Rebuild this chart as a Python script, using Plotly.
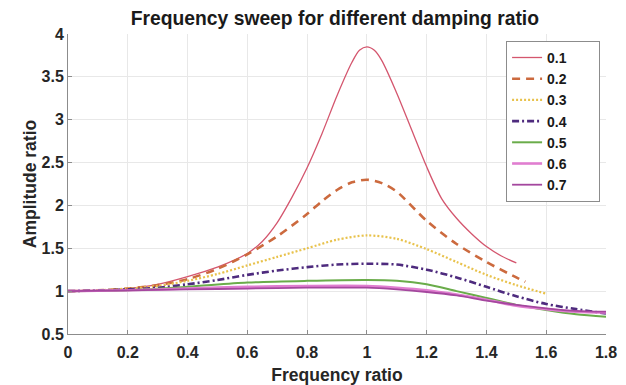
import plotly.graph_objects as go

# ---- data ----
labels = ["0.1", "0.2", "0.3", "0.4", "0.5", "0.6", "0.7"]

x_01 = [0, 0.1, 0.2, 0.3, 0.4, 0.5, 0.6, 0.65, 0.7, 0.75, 0.8, 0.85, 0.9, 0.95, 0.975, 1.0,
        1.025, 1.05, 1.1, 1.15, 1.2, 1.25, 1.3, 1.35, 1.4, 1.45, 1.5]
y_01 = [1.00, 1.01, 1.03, 1.08, 1.17, 1.28, 1.44, 1.58, 1.80, 2.10, 2.44, 2.84, 3.28, 3.67, 3.81, 3.85,
        3.81, 3.69, 3.31, 2.88, 2.45, 2.08, 1.85, 1.67, 1.52, 1.41, 1.33]

x_02 = [0, 0.1, 0.2, 0.3, 0.4, 0.5, 0.6, 0.7, 0.8, 0.85, 0.9, 0.95, 1.0, 1.05, 1.1, 1.2, 1.3, 1.4, 1.5, 1.53]
y_02 = [1.00, 1.01, 1.03, 1.07, 1.14, 1.26, 1.43, 1.64, 1.90, 2.05, 2.18, 2.27, 2.30, 2.26, 2.16, 1.82, 1.55, 1.34, 1.16, 1.11]

x_03 = [0, 0.1, 0.2, 0.3, 0.4, 0.5, 0.6, 0.7, 0.8, 0.9, 1.0, 1.1, 1.2, 1.3, 1.4, 1.5, 1.6]
y_03 = [1.00, 1.01, 1.03, 1.06, 1.12, 1.20, 1.30, 1.40, 1.50, 1.60, 1.65, 1.61, 1.49, 1.34, 1.19, 1.07, 0.97]

x_04 = [0, 0.2, 0.3, 0.4, 0.5, 0.6, 0.7, 0.8, 0.9, 1.0, 1.1, 1.2, 1.3, 1.4, 1.5, 1.6, 1.7, 1.8]
y_04 = [1.00, 1.02, 1.04, 1.08, 1.13, 1.19, 1.24, 1.28, 1.31, 1.32, 1.31, 1.25, 1.16, 1.05, 0.94, 0.85, 0.79, 0.74]

x_05 = [0, 0.2, 0.4, 0.6, 0.8, 1.0, 1.1, 1.2, 1.3, 1.4, 1.5, 1.6, 1.7, 1.8]
y_05 = [1.00, 1.01, 1.05, 1.10, 1.12, 1.13, 1.12, 1.08, 1.00, 0.92, 0.84, 0.78, 0.73, 0.70]

x_06 = [0, 0.2, 0.4, 0.6, 0.8, 1.0, 1.1, 1.2, 1.3, 1.4, 1.5, 1.6, 1.7, 1.8]
y_06 = [1.00, 1.01, 1.03, 1.05, 1.06, 1.06, 1.04, 1.01, 0.96, 0.90, 0.83, 0.79, 0.76, 0.75]

x_07 = [0, 0.2, 0.4, 0.6, 0.8, 1.0, 1.1, 1.2, 1.3, 1.4, 1.5, 1.6, 1.7, 1.8]
y_07 = [1.00, 1.01, 1.02, 1.03, 1.04, 1.04, 1.02, 0.99, 0.95, 0.89, 0.84, 0.80, 0.77, 0.76]

x_ticks = [0, 0.2, 0.4, 0.6, 0.8, 1, 1.2, 1.4, 1.6, 1.8]
x_ticklabels = ["0", "0.2", "0.4", "0.6", "0.8", "1", "1.2", "1.4", "1.6", "1.8"]
y_ticks = [0.5, 1, 1.5, 2, 2.5, 3, 3.5, 4]
y_ticklabels = ["0.5", "1", "1.5", "2", "2.5", "3", "3.5", "4"]

series = [
    (x_01, y_01, "#d4566e", "solid", 1.3),
    (x_02, y_02, "#cc6a3e", "8px,6px", 2.6),
    (x_03, y_03, "#e8c24c", "2px,2px", 2.2),
    (x_04, y_04, "#4e2b7e", "7px,3px,2px,3px", 2.6),
    (x_05, y_05, "#6aac4a", "solid", 2.0),
    (x_06, y_06, "#e07ed0", "solid", 2.6),
    (x_07, y_07, "#a4479e", "solid", 1.8),
]

FONT = "Liberation Sans, Arial, Helvetica, sans-serif"
PAD = "\u00a0" * 7  # right padding inside legend box

fig = go.Figure()
for (xs, ys, col, dash, w), name in zip(series, labels):
    fig.add_trace(go.Scatter(
        x=xs, y=ys, mode="lines", name=name + PAD,
        line=dict(color=col, dash=dash, width=w, shape="spline", smoothing=0.8),
    ))

fig.update_layout(
    width=626, height=385,
    margin=dict(l=68, r=20, t=34, b=51),
    paper_bgcolor="white", plot_bgcolor="white",
    font=dict(family=FONT, size=15, color="#262626"),
    title=dict(text="<b>Frequency sweep for different damping ratio</b>",
               x=0.535, xanchor="center", y=0.952, yanchor="middle",
               font=dict(size=19.3, color="#1a1a1a")),
    legend=dict(x=0.989, xanchor="right", y=0.977, yanchor="top",
                bgcolor="white", bordercolor="#8c8c8c", borderwidth=1,
                font=dict(size=14, color="#1a1a1a", weight="bold"),
                tracegroupgap=0, itemwidth=30),
    showlegend=True,
)
fig.update_xaxes(
    range=[0, 1.8], tickvals=x_ticks, ticktext=x_ticklabels,
    showgrid=True, gridcolor="#e8e8e8", gridwidth=1, zeroline=False,
    showline=True, linecolor="#8c8c8c", linewidth=1,
    ticks="inside", ticklen=4, tickcolor="#8c8c8c",
    ticklabelstandoff=4, automargin=False,
    tickfont=dict(size=16, weight="bold", color="#262626"),
    title=dict(text="<b>Frequency ratio</b>", font=dict(size=17.5, color="#262626"), standoff=8),
)
fig.update_yaxes(
    range=[0.5, 4], tickvals=y_ticks, ticktext=y_ticklabels,
    showgrid=True, gridcolor="#e8e8e8", gridwidth=1, zeroline=False,
    showline=True, linecolor="#8c8c8c", linewidth=1,
    ticks="inside", ticklen=4, tickcolor="#8c8c8c", automargin=False,
    tickfont=dict(size=16, weight="bold", color="#262626"),
    title=dict(text="<b>Amplitude ratio</b>", font=dict(size=17.5, color="#262626"), standoff=0),
)

fig.write_html("out.html")
